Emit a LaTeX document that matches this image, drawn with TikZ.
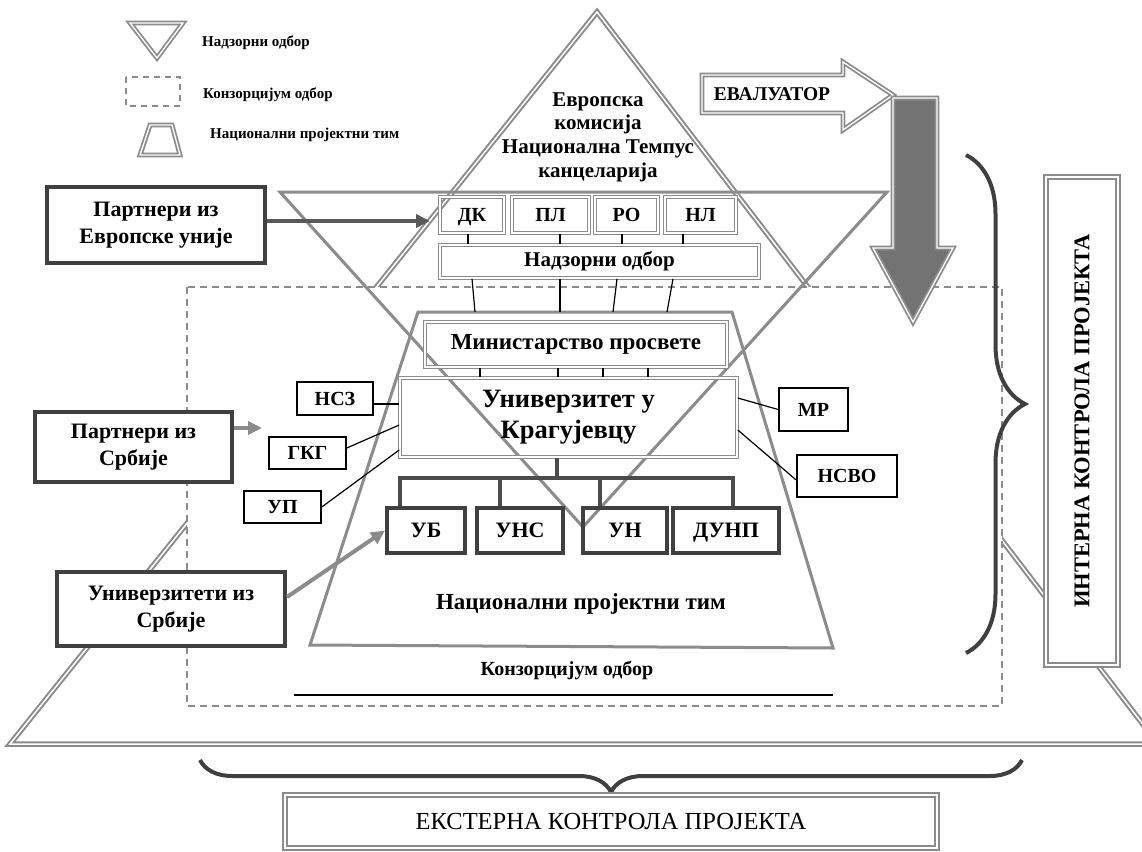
\documentclass[tikz,border=0pt]{standalone}
\usepackage{fontspec}
\setmainfont{Liberation Serif}
\usetikzlibrary{arrows.meta,decorations.pathreplacing}
\newcommand{\fsz}[2]{\fontsize{#1}{#2}\selectfont}
\definecolor{lgray}{gray}{0.55}
\definecolor{dgray}{gray}{0.25}
\begin{document}
\begin{tikzpicture}[x=1pt,y=-1pt,
  dbl/.style={draw=lgray, line width=1.6pt, double=white, double distance=1.3pt},
  gbox/.style={dbl, inner sep=0pt, font=\fsz{20}{24}\bfseries},
  capsg/.style={text height=13.2pt, text depth=0pt},
  pbox/.style={draw=dgray, line width=4pt, fill=white, inner sep=0pt, align=center, font=\fsz{22}{27}\bfseries},
  sbox/.style={draw=black, line width=1.6pt, inner sep=0pt, font=\fsz{20}{24}\bfseries, text height=13.2pt, text depth=0pt},
  ubox/.style={draw=dgray, line width=4pt, inner sep=0pt, font=\fsz{22}{26}\bfseries, minimum height=45pt, text height=14.5pt, text depth=0pt},
  conn/.style={draw=black, line width=1.2pt},
  tree/.style={draw=black!70, line width=4pt},
  brc/.style={draw=black!75, line width=4pt, decorate},
  garrow/.style={draw=lgray, line width=4pt, -{Triangle[length=14pt,width=13pt]}},
  darrow/.style={draw=black!65, line width=4pt, -{Triangle[length=14pt,width=13pt]}},
  lab/.style={inner sep=0pt, font=\fsz{15}{18}\bfseries},
  ctrlbox/.style={draw=lgray, line width=2.2pt, double=white, double distance=1.6pt, fill=white, inner sep=0pt},
]
\useasboundingbox (0,0) rectangle (1142,851);
\clip (0,0) rectangle (1142,851);
\fill[white] (0,0) rectangle (1142,851);

% legend
\draw[dbl, line width=1.8pt] (130,23) -- (183,23) -- (157,58) -- cycle;
\draw[draw=lgray, line width=1.3pt, dash pattern=on 6pt off 5pt] (126,77) rectangle (180,106);
\draw[dbl, line width=1.8pt] (150,125) -- (172,125) -- (180,155) -- (140,155) -- cycle;
\node[lab, anchor=west] (l1) at (202,43) {Надзорни одбор};
\node[lab, anchor=west] (l2) at (203,95) {Конзорцијум одбор};
\node[lab, anchor=west] (l3) at (210,135) {Национални пројектни тим};

% big pyramid
\draw[draw=lgray, line width=2pt, double=white, double distance=1.5pt] (597,12) -- (10,744) -- (1158,744) -- cycle;

% consortium board (dashed)
\draw[draw=lgray, line width=1.5pt, dash pattern=on 7pt off 5pt, fill=white] (187,287) rectangle (1002,706);

% supervisory board (inverted triangle)
\draw[draw=lgray, line width=3pt] (280,192) -- (887,192) -- (583,527) -- cycle;

% national project team (trapezoid)
\coordinate (trTL) at (418,312);
\coordinate (trTR) at (732,312);
\coordinate (trBR) at (833,648);
\coordinate (trBL) at (310,645);
\draw[draw=lgray, line width=3pt] (trTL) -- (trTR) -- (trBR) -- (trBL) -- cycle;

% top text
\node[align=center, inner sep=0pt, font=\fsz{21}{23.7}\bfseries] (ec) at (598,137)
  {Европска\\комисија\\Национална Темпус\\канцеларија};

% supervisory boxes
\node[gbox, capsg, minimum width=64pt, minimum height=36pt] (dk) at (472,215) {ДК};
\node[gbox, capsg, minimum width=77pt, minimum height=36pt] (pl) at (550.5,215) {ПЛ};
\node[gbox, capsg, minimum width=63pt, minimum height=36pt] (ro) at (626.5,215) {РО};
\node[gbox, capsg, minimum width=71pt, minimum height=36pt] (nl) at (700.5,215) {НЛ};
\node[gbox, minimum width=319pt, minimum height=33pt, font=\fsz{21}{24}\bfseries] (nadzor) at (599.5,261.5) {Надзорни одбор};
\draw[conn] (468,0 |- dk.south) -- (468,0 |- nadzor.north);
\draw[conn] (560,0 |- pl.south) -- (560,0 |- nadzor.north);
\draw[conn] (622,0 |- ro.south) -- (622,0 |- nadzor.north);
\draw[conn] (683,0 |- nl.south) -- (683,0 |- nadzor.north);
\draw[conn] (472,0 |- nadzor.south) -- (475,0 |- trTL);
\draw[conn] (560,0 |- nadzor.south) -- (560,0 |- trTL);
\draw[conn] (617,0 |- nadzor.south) -- (613,0 |- trTL);
\draw[conn] (673,0 |- nadzor.south) -- (667,0 |- trTL);

% ministry and university
\node[gbox, minimum width=302pt, minimum height=45pt, font=\fsz{23}{27}\bfseries] (min) at (576,344.5) {Министарство просвете};
\node[gbox, minimum width=337pt, minimum height=79pt, align=center, font=\fsz{26.5}{31}\bfseries] (univ) at (568.5,417.5) {Универзитет у\\Крагујевцу};
\draw[conn] (480,0 |- min.south) -- (480,0 |- univ.north);
\draw[conn] (558,0 |- min.south) -- (558,0 |- univ.north);
\draw[conn] (603,0 |- min.south) -- (603,0 |- univ.north);
\draw[conn] (648,0 |- min.south) -- (648,0 |- univ.north);

% side boxes
\node[sbox, minimum width=76pt, minimum height=33pt] (nsz) at (335,398.5) {НСЗ};
\node[sbox, minimum width=77pt, minimum height=32pt] (gkg) at (307.5,453) {ГКГ};
\node[sbox, minimum width=77pt, minimum height=32pt] (up) at (282.5,507) {УП};
\node[sbox, minimum width=69pt, minimum height=43pt] (mr) at (813.5,409.5) {МР};
\node[sbox, minimum width=100pt, minimum height=42pt] (nsvo) at (847,476) {НСВО};
\draw[conn] (nsz.east |- 0,404) -- (univ.west |- 0,404);
\draw[conn] (gkg.east |- 0,448) -- (univ.west |- 0,425);
\draw[conn] (up.east) -- (univ.west |- 0,450);
\draw[conn] (univ.east |- 0,398) -- (mr.west);
\draw[conn] (univ.east |- 0,430) -- (nsvo.west |- 0,480);

% universities
\node[ubox, minimum width=78pt] (ub) at (426,530.5) {УБ};
\node[ubox, minimum width=86pt] (uns) at (520,530.5) {УНС};
\node[ubox, minimum width=84pt] (un) at (625,530.5) {УН};
\node[ubox, minimum width=106pt] (dunp) at (726,530.5) {ДУНП};
\coordinate (bar) at (0,478);
\draw[tree] (557,0 |- univ.south) -- (557,0 |- bar);
\draw[tree] (400,0 |- ub.north) |- (733,0 |- bar) -- (733,0 |- dunp.north);
\draw[tree] (500,0 |- uns.north) -- (500,0 |- bar);
\draw[tree] (600,0 |- un.north) -- (600,0 |- bar);

% labels of team and consortium
\node[inner sep=0pt, font=\fsz{23}{27}\bfseries] (npt) at (581,604) {Национални пројектни тим};
\node[inner sep=0pt, font=\fsz{20}{24}\bfseries] (konz) at (567,670) {Конзорцијум одбор};
\draw[line width=1.2pt] (294,695) -- (833,695);

% partner boxes
\node[pbox, minimum width=218pt, minimum height=76pt] (peu) at (156,225) {Партнери из\\Европске уније};
\node[pbox, minimum width=197pt, minimum height=70pt] (psr) at (133.5,447) {Партнери из\\Србије};
\node[pbox, minimum width=228pt, minimum height=74pt] (usr) at (171,609) {Универзитети из\\Србије};
\coordinate (euTip) at (430,221);
\coordinate (srTip) at (262,428);
\draw[darrow] (peu.east |- 0,221) -- (euTip);
\draw[garrow] (psr.east |- 0,428) -- (srTip);
\draw[garrow] (usr.east |- 0,597) -- (ub.west);

% evaluator arrows
\draw[dbl, line width=1.8pt] (702,75) -- (843,75) -- (843,62) -- (893,95) -- (843,130) -- (843,113) -- (702,113) -- cycle;
\node[inner sep=0pt, font=\fsz{19.5}{22}\bfseries] (ev) at (772,94) {ЕВАЛУАТОР};
\draw[draw=lgray, line width=1.8pt, double=white, double distance=1.3pt, fill=black!55] (893,98) -- (937,98) -- (937,248) -- (953,248) -- (913,322) -- (873,248) -- (893,248) -- cycle;

% internal control
\draw[brc, decoration={brace, amplitude=59pt}] (966,155) -- (966,653);
\node[ctrlbox, rotate=90, minimum width=488pt, minimum height=72pt, font=\fsz{22.5}{26}\bfseries] (ik) at (1082,421) {ИНТЕРНА КОНТРОЛА ПРОЈЕКТА};

% external control
\draw[brc, decoration={brace, amplitude=32pt}] (1022,760) -- (200,760);
\node[ctrlbox, minimum width=652pt, minimum height=53pt, font=\fsz{24.5}{28}] (ek) at (611,821.5) {ЕКСТЕРНА КОНТРОЛА ПРОЈЕКТА};
\end{tikzpicture}
\end{document}
